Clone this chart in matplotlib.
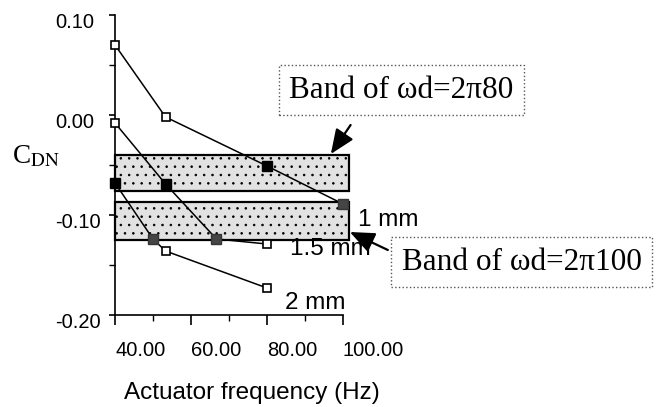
import matplotlib
matplotlib.use('Agg')
import matplotlib.pyplot as plt
from matplotlib.patches import Rectangle
from matplotlib.ticker import MultipleLocator
from matplotlib.transforms import ScaledTranslation

plt.rcParams['font.family'] = ['Liberation Sans', 'DejaVu Sans']
plt.rcParams['mathtext.fontset'] = 'stix'
plt.rcParams['hatch.color'] = '#a0a0a0'
plt.rcParams['hatch.linewidth'] = 0.6

# data
freq_1mm = [40, 53.3, 80, 100]
cdn_1mm = [0.070, -0.002, -0.051, -0.089]
kind_1mm = ['open', 'open', 'black', 'gray']

freq_15mm = [40, 53.3, 66.7, 80]
cdn_15mm = [-0.008, -0.069, -0.124, -0.129]
kind_15mm = ['open', 'black', 'gray', 'open']

freq_2mm = [40, 50, 53.3, 80]
cdn_2mm = [-0.068, -0.124, -0.136, -0.173]
kind_2mm = ['black', 'gray', 'open', 'open']

# bands of omega_d (C_DN range)
band80 = [-0.076, -0.040]
band100 = [-0.125, -0.087]
band_x = [40, 101.6]

series = [(freq_1mm, cdn_1mm, kind_1mm, '1 mm', (104, -0.105)),
          (freq_15mm, cdn_15mm, kind_15mm, '1.5 mm', (86, -0.134)),
          (freq_2mm, cdn_2mm, kind_2mm, '2 mm', (84.7, -0.188))]

marker_style = {'open': dict(marker='s', ms=5.5, mfc='white', mec='black', mew=1.2),
                'black': dict(marker='s', ms=7, mfc='black', mec='black', mew=1),
                'gray': dict(marker='s', ms=7, mfc='#454545', mec='#353535', mew=1)}

fig = plt.figure(figsize=(6.62, 4.07), dpi=100)
ax = fig.add_axes([115/662, 92/407, 228/662, 300/407])

for lo, hi in [band80, band100]:
    r = Rectangle((band_x[0], lo), band_x[1]-band_x[0], hi-lo, facecolor='#e2e2e2',
                  edgecolor='black', lw=1.6, hatch='..', clip_on=False, zorder=1)
    ax.add_patch(r)

for xs, ys, kinds, lab, pos in series:
    ax.plot(xs, ys, color='black', lw=1.1, clip_on=False, zorder=3)
    for x, y, k in zip(xs, ys, kinds):
        ax.plot([x], [y], ls='none', clip_on=False, zorder=4, **marker_style[k])
    ax.text(pos[0], pos[1], lab, fontsize=17.5, ha='left', va='center')

ax.set_xlim(40, 100)
ax.set_ylim(-0.2, 0.1)
ax.spines['top'].set_visible(False)
ax.spines['right'].set_visible(False)
ax.spines['left'].set_linewidth(1.2)
ax.spines['bottom'].set_linewidth(1.2)

ax.xaxis.set_minor_locator(MultipleLocator(10))
ax.yaxis.set_minor_locator(MultipleLocator(0.05))
ax.set_xticks([40, 60, 80, 100])
ax.set_xticklabels(['40.00', '60.00', '80.00', '100.00'])
ax.set_yticks([-0.2, -0.1, 0.0, 0.1])
ax.set_yticklabels(['-0.20', '-0.10', '0.00', '0.10'])
ax.tick_params(axis='x', which='major', length=7, width=1.2, labelsize=14.5, pad=12)
ax.tick_params(axis='x', which='minor', length=4, width=1)
ax.tick_params(axis='y', which='major', length=4, width=1.2, labelsize=14.5, pad=39)
ax.tick_params(axis='y', which='minor', length=4, width=1)
for t in ax.get_xticklabels():
    t.set_ha('left')
shift = ScaledTranslation(0, -5/100, fig.dpi_scale_trans)
for t in ax.get_yticklabels():
    t.set_ha('left')
    t.set_transform(t.get_transform() + shift)

fig.text(252/662, 1-393/407, 'Actuator frequency (Hz)', fontsize=17.5, ha='center', va='center')
fig.text(12/662, 1-157/407, r'C$_{\mathrm{DN}}$', fontsize=19.5, family='Liberation Serif',
         ha='left', va='center')

box = dict(boxstyle='square,pad=0.33', facecolor='white', edgecolor='#555555', ls=':', lw=1)
ax.text(115.3, 0.025, 'Band of \u03c9d=2\u03c080', fontsize=22.5, family='Liberation Serif',
        ha='center', va='center', bbox=box, clip_on=False)
ax.text(147.0, -0.147, 'Band of \u03c9d=2\u03c0100', fontsize=22.5, family='Liberation Serif',
        ha='center', va='center', bbox=box, clip_on=False)

arrow = dict(arrowstyle='-|>,head_length=1.0,head_width=0.42', color='black', lw=1.6,
             shrinkA=0, shrinkB=0, mutation_scale=15)
ax.annotate('', xy=(96.8, -0.039), xytext=(102.0, -0.010), arrowprops=arrow, annotation_clip=False)
ax.annotate('', xy=(101.8, -0.117), xytext=(111.8, -0.135), arrowprops=arrow, annotation_clip=False)

fig.savefig('out.png', dpi=100)
